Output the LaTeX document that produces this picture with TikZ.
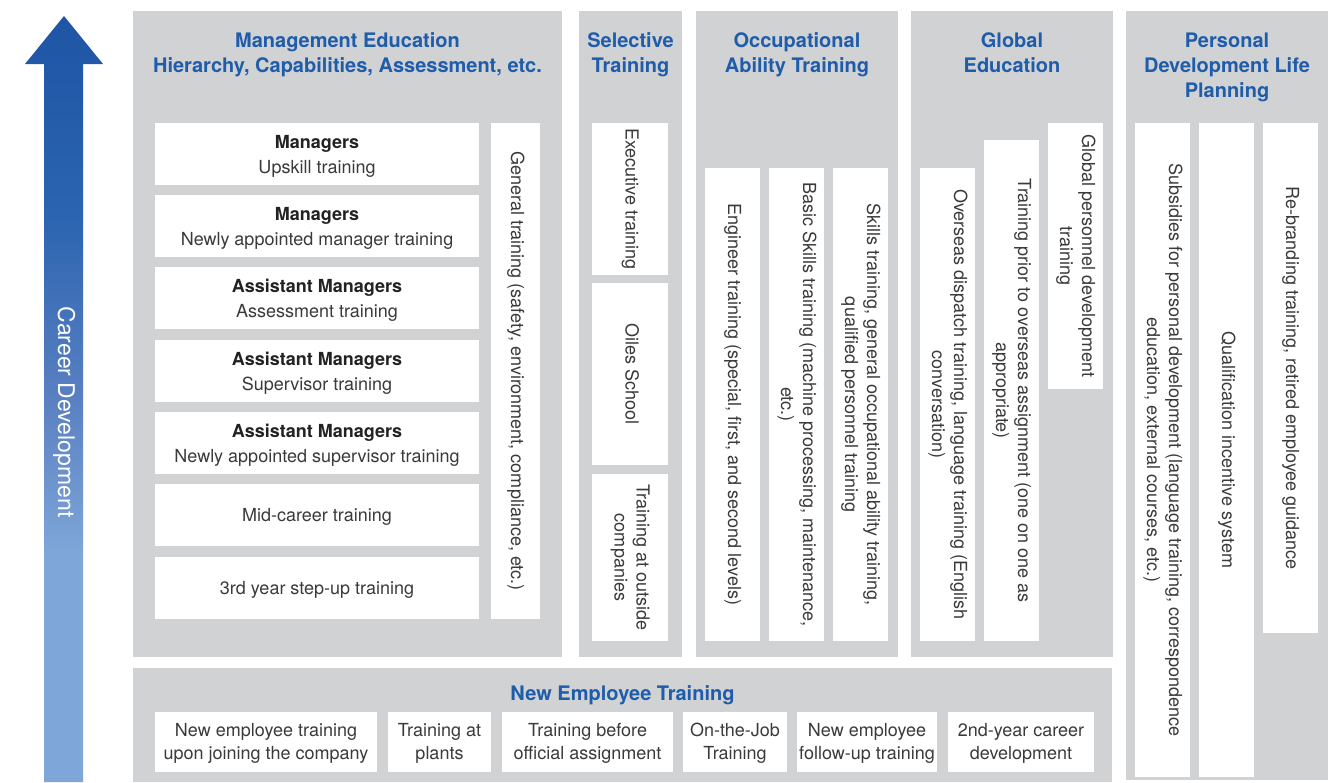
\documentclass[tikz,border=0pt]{standalone}
\usepackage{fontspec}
\setmainfont{TeX Gyre Heros}
\definecolor{panelgray}{HTML}{D1D2D4}
\definecolor{headblue}{HTML}{1F5CAA}
\definecolor{bodygray}{HTML}{3A3A3A}
\definecolor{boldblack}{HTML}{222222}
\definecolor{cddark}{HTML}{1E55A5}
\definecolor{cdup}{HTML}{2B64B0}
\definecolor{cdmid}{HTML}{5A80C2}
\definecolor{cdlight}{HTML}{7EA6D8}
\pgfdeclareverticalshading{cdshade}{100bp}{color(0bp)=(cdlight); color(40bp)=(cdlight); color(50bp)=(cdmid); color(62bp)=(cdup); color(75bp)=(cddark); color(100bp)=(cddark)}
\newcommand\mkbox[7]{%
  \fill[white] (#2,#3) rectangle (#4,#5);
  \node[#6] (#1) at ({(#2+#4)/2},{(#3+#5)/2}) {#7};}
\newcommand\bl[1]{{\bfseries\color{boldblack}#1}}
\tikzset{
  panel/.style={fill=panelgray},
  headtxt/.style={text=headblue, font=\fontsize{20}{25}\selectfont\bfseries, align=center, inner sep=0pt, yshift=-1.2pt},
  mgrtxt/.style={text=bodygray, font=\fontsize{18}{25}\selectfont, align=center, inner sep=0pt, yshift=-1.5pt},
  bottxt/.style={text=bodygray, font=\fontsize{18}{23}\selectfont, align=center, inner sep=0pt, yshift=-1.2pt},
  vtxt/.style={text=bodygray, font=\fontsize{18}{22}\selectfont, align=center, inner sep=0pt, rotate=-90},
}
\begin{document}
\begin{tikzpicture}[x=1pt,y=-1pt]
\useasboundingbox (0,0) rectangle (1341,782);
% career arrow
\path[shading=cdshade] (44,782) -- (44,64) -- (25,64) -- (64,16) -- (103,64) -- (83,64) -- (83,782) -- cycle;
\node[rotate=-90, text=white, font=\fontsize{23}{27}\selectfont, inner sep=0pt] (career) at (63.5,412) {Career Development\strut};
% panels
\fill[panel] (133,11) rectangle (562,657);
\fill[panel] (579,11) rectangle (682,657);
\fill[panel] (696,11) rectangle (898,657);
\fill[panel] (911,11) rectangle (1113,657);
\fill[panel] (1126,11) rectangle (1328,780);
\fill[panel] (133,668) rectangle (1112,782);
% headings
\node[headtxt] (hmgmt) at (347.5,54) {\strut Management Education\\Hierarchy, Capabilities, Assessment, etc.\strut};
\node[headtxt] (hsel) at (630.5,54) {\strut Selective\\Training\strut};
\node[headtxt] (hocc) at (797,54) {\strut Occupational\\Ability Training\strut};
\node[headtxt] (hglob) at (1012,54) {\strut Global\\Education\strut};
\node[headtxt] (hpers) at (1227,66.5) {\strut Personal\\Development Life\\Planning\strut};
\node[headtxt] (hnew) at (622.5,694) {\strut New Employee Training\strut};
% management
\mkbox{m1}{155}{123}{479}{185}{mgrtxt}{\strut\bl{Managers}\\Upskill training\strut}
\mkbox{m2}{155}{195}{479}{257}{mgrtxt}{\strut\bl{Managers}\\Newly appointed manager training\strut}
\mkbox{m3}{155}{267}{479}{329}{mgrtxt}{\strut\bl{Assistant Managers}\\Assessment training\strut}
\mkbox{m4}{155}{340}{479}{402}{mgrtxt}{\strut\bl{Assistant Managers}\\Supervisor training\strut}
\mkbox{m5}{155}{412}{479}{474}{mgrtxt}{\strut\bl{Assistant Managers}\\Newly appointed supervisor training\strut}
\mkbox{m6}{155}{484}{479}{546}{mgrtxt}{\strut Mid-career training}
\mkbox{m7}{155}{557}{479}{619}{mgrtxt}{\strut 3rd year step-up training}
\mkbox{mgen}{491}{123}{540}{619}{vtxt}{\strut General training (safety, environment, compliance, etc.)}
% selective
\mkbox{s1}{592}{123}{668}{275}{vtxt}{\strut Executive training}
\mkbox{s2}{592}{283}{668}{465}{vtxt}{\strut Oiles School}
\mkbox{s3}{592}{474}{668}{641}{vtxt}{\strut Training at outside\\companies\strut}
% occupational
\mkbox{o1}{705}{168}{760}{641}{vtxt}{\strut Engineer training (special, first, and second levels)}
\mkbox{o2}{769}{168}{824}{641}{vtxt}{\strut Basic Skills training (machine processing, maintenance,\\etc.)\strut}
\mkbox{o3}{833}{168}{888}{641}{vtxt}{\strut Skills training, general occupational ability training,\\qualified personnel training\strut}
% global
\mkbox{g1}{920}{168}{975}{641}{vtxt}{\strut Overseas dispatch training, language training (English\\conversation)\strut}
\mkbox{g2}{984}{140}{1039}{641}{vtxt}{\strut Training prior to overseas assignment (one on one as\\appropriate)\strut}
\mkbox{g3}{1048}{123}{1103}{389}{vtxt}{\strut Global personnel development\\training\strut}
% personal
\mkbox{p1}{1135}{123}{1190}{777}{vtxt}{\strut Subsidies for personal development (language training, correspondence\\education, external courses, etc.)\strut}
\mkbox{p2}{1199}{123}{1254}{777}{vtxt}{\strut Qualification incentive system}
\mkbox{p3}{1263}{123}{1318}{633}{vtxt}{\strut Re-branding training, retired employee guidance}
% new employee
\mkbox{n1}{155}{712}{377}{772}{bottxt}{\strut New employee training\\upon joining the company\strut}
\mkbox{n2}{388}{712}{491}{772}{bottxt}{\strut Training at\\plants\strut}
\mkbox{n3}{502}{712}{673}{772}{bottxt}{\strut Training before\\official assignment\strut}
\mkbox{n4}{683}{712}{787}{772}{bottxt}{\strut On-the-Job\\Training\strut}
\mkbox{n5}{797}{712}{937}{772}{bottxt}{\strut New employee\\follow-up training\strut}
\mkbox{n6}{948}{712}{1094}{772}{bottxt}{\strut 2nd-year career\\development\strut}
\end{tikzpicture}
\end{document}
